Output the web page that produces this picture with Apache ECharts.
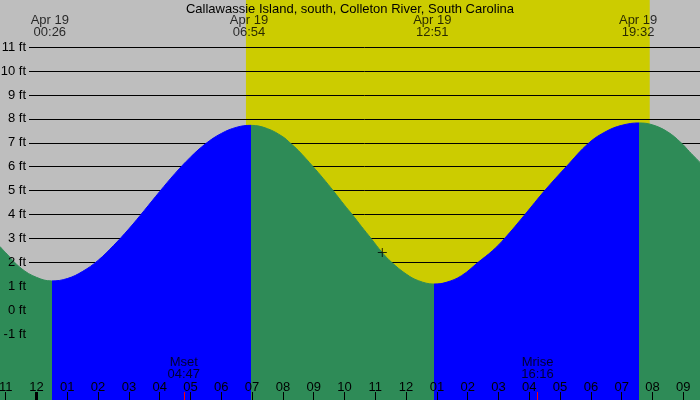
<!DOCTYPE html>
<html>
<head>
<meta charset="utf-8">
<script src="https://cdn.jsdelivr.net/npm/echarts@6/dist/echarts.min.js"></script>
<style>html,body{margin:0;padding:0;background:#bebebe}#c{width:700px;height:400px}</style>
</head>
<body>
<div id="c"></div>
<script>
// ---- data (hours after midnight Apr 19, heights in ft) ----
const titleText = 'Callawassie Island, south, Colleton River, South Carolina';
const tideTimes = [-1.185, -1.0, -0.5, 0.0, 0.494, 1.0, 1.5, 2.0, 2.5, 3.0, 3.5, 4.0, 4.5, 5.0, 5.5, 6.0, 6.5, 6.964, 7.5, 8.0, 8.23, 8.5, 8.98, 9.3, 9.63, 10.0, 10.25, 10.55, 10.86, 11.21, 11.53, 12.0, 12.4, 12.906, 13.3, 13.8, 14.34, 14.8, 15.2, 15.86, 16.5, 17.2, 17.94, 18.5, 19.0, 19.562, 20.0, 20.5, 20.93, 21.2, 21.542];
const tideHeights = [2.66, 2.40, 1.75, 1.37, 1.22, 1.32, 1.62, 2.08, 2.70, 3.40, 4.17, 4.96, 5.72, 6.40, 6.97, 7.39, 7.65, 7.73, 7.59, 7.25, 7.0, 6.68, 6.0, 5.52, 5.0, 4.39, 4.0, 3.5, 3.0, 2.43, 2.0, 1.51, 1.23, 1.09, 1.16, 1.44, 2.0, 2.48, 3.0, 4.0, 5.0, 6.0, 7.0, 7.48, 7.73, 7.83, 7.75, 7.45, 7.0, 6.63, 6.18];
const extremeTimes = [0.494, 6.964, 12.906, 19.562];
const extremeKinds = ['low', 'high', 'low', 'high'];
const tideEventTimes = [0.433, 6.9, 12.85, 19.533];
const tideEventDate = 'Apr 19';
const tideEventLabels = ['00:26', '06:54', '12:51', '19:32'];
const sunrise = 6.80, sunset = 19.91;
const moonTimes = [4.783, 16.267];
const moonNames = ['Mset', 'Mrise'];
const moonLabels = ['04:47', '16:16'];
const nowPoint = [11.227, 2.41];
const hourTicks = [-1,0,1,2,3,4,5,6,7,8,9,10,11,12,13,14,15,16,17,18,19,20,21];
const hourLabels = ['11','12','01','02','03','04','05','06','07','08','09','10','11','12','01','02','03','04','05','06','07','08','09'];
const midnightTicks = [0];
const heightTicks = [-1,0,1,2,3,4,5,6,7,8,9,10,11];

// ---- layout / style ----
const xMin = -1.185, xMax = 21.542, yMin = -3.762, yMax = 12.975;
const tickLenFt = 0.335;
const topLabelY = 11.86, moonLabelY = -2.44;
const GREEN = '#2e8b57', BLUE = '#0000ff', YELLOW = '#cccc00', GRAY = '#bebebe';
const FONT = '"Liberation Sans", Arial, sans-serif';
const FS = 13;

const pieces = [];
pieces.push({ lt: extremeTimes[0], color: extremeKinds[0] === 'low' ? GREEN : BLUE });
extremeTimes.forEach((t, i) => {
  const p = { gte: t, color: extremeKinds[i] === 'low' ? BLUE : GREEN };
  if (i < extremeTimes.length - 1) p.lt = extremeTimes[i + 1];
  pieces.push(p);
});

const chart = echarts.init(document.getElementById('c'), null, { renderer: 'canvas' });
chart.setOption({
  animation: false,
  backgroundColor: GRAY,
  title: {
    text: titleText, left: 'center', top: -2,
    textStyle: { fontSize: FS, fontWeight: 'normal', color: '#000', fontFamily: FONT }
  },
  grid: [
    { left: 0, right: 0, top: 0, bottom: 0, containLabel: false, outerBoundsMode: 'none' },
    { left: 29, right: 0, top: 0, bottom: 0, containLabel: false, outerBoundsMode: 'none' }
  ],
  xAxis: [
    {
      gridIndex: 0, type: 'value', min: xMin, max: xMax, z: 10,
      axisLine: { show: false, onZero: false }, splitLine: { show: false },
      axisTick: { show: true, inside: true, length: 8, lineStyle: { color: '#000', width: 1 }, customValues: hourTicks },
      axisLabel: {
        inside: true, margin: 6, customValues: hourTicks,
        formatter: v => hourLabels[hourTicks.indexOf(Math.round(v))],
        color: '#000', fontSize: FS, fontFamily: FONT
      }
    },
    { gridIndex: 1, type: 'value', min: 0, max: 1, show: false }
  ],
  yAxis: [
    { gridIndex: 0, type: 'value', min: yMin, max: yMax, show: false },
    {
      gridIndex: 1, type: 'value', min: yMin, max: yMax, z: 10,
      axisLine: { show: false, onZero: false }, axisTick: { show: false }, splitLine: { show: false },
      axisLabel: { customValues: heightTicks, formatter: '{value} ft', margin: 3, color: '#000', fontSize: FS, fontFamily: FONT }
    }
  ],
  visualMap: { type: 'piecewise', show: false, dimension: 0, seriesIndex: 2, pieces: pieces },
  series: [
    {
      type: 'line', xAxisIndex: 0, yAxisIndex: 0, z: 1, data: [], silent: true,
      markArea: { silent: true, z: 1, itemStyle: { color: YELLOW }, data: [[{ xAxis: sunrise }, { xAxis: sunset }]] }
    },
    {
      type: 'line', xAxisIndex: 1, yAxisIndex: 1, z: 2, data: [], silent: true,
      markLine: {
        silent: true, z: 2, symbol: 'none', label: { show: false },
        lineStyle: { color: '#000', width: 1, type: 'solid' },
        data: heightTicks.map(v => ({ yAxis: v }))
      }
    },
    {
      type: 'line', xAxisIndex: 0, yAxisIndex: 0, z: 3, silent: true,
      data: tideTimes.map((t, i) => [t, tideHeights[i]]),
      smooth: 0.4, showSymbol: false,
      lineStyle: { width: 1 },
      areaStyle: { opacity: 1, origin: 'start' }
    },
    {
      type: 'scatter', xAxisIndex: 0, yAxisIndex: 0, z: 5, silent: true,
      data: [nowPoint],
      symbol: 'path://M4,0h1v9h-1z M0,4h9v1h-9z', symbolSize: 9,
      itemStyle: { color: '#000' }
    },
    {
      type: 'line', xAxisIndex: 0, yAxisIndex: 0, z: 11, data: [], silent: true,
      markLine: {
        silent: true, z: 11, symbol: 'none', label: { show: false },
        data: midnightTicks.map(t => [
          { coord: [t, yMin], lineStyle: { color: '#000', width: 3, type: 'solid' } },
          { coord: [t, yMin + tickLenFt] }
        ]).concat(moonTimes.map(t => [
          { coord: [t, yMin], lineStyle: { color: '#ff0000', width: 1, type: 'solid' } },
          { coord: [t, yMin + tickLenFt] }
        ]))
      }
    },
    {
      type: 'scatter', xAxisIndex: 0, yAxisIndex: 0, z: 6, silent: true,
      symbolSize: 0,
      data: tideEventTimes.map((t, i) => ({ value: [t, topLabelY], name: tideEventLabels[i] })),
      label: {
        show: true, position: 'inside', formatter: p => tideEventDate + '\n' + p.name,
        color: '#000', fontSize: FS, lineHeight: 12, fontFamily: FONT
      }
    },
    {
      type: 'scatter', xAxisIndex: 0, yAxisIndex: 0, z: 6, silent: true,
      symbolSize: 0,
      data: moonTimes.map((t, i) => ({ value: [t, moonLabelY], name: moonNames[i] + '\n' + moonLabels[i] })),
      label: {
        show: true, position: 'inside', formatter: p => p.name,
        color: '#000', fontSize: FS, lineHeight: 12, fontFamily: FONT
      }
    }
  ]
});
</script>
</body>
</html>
